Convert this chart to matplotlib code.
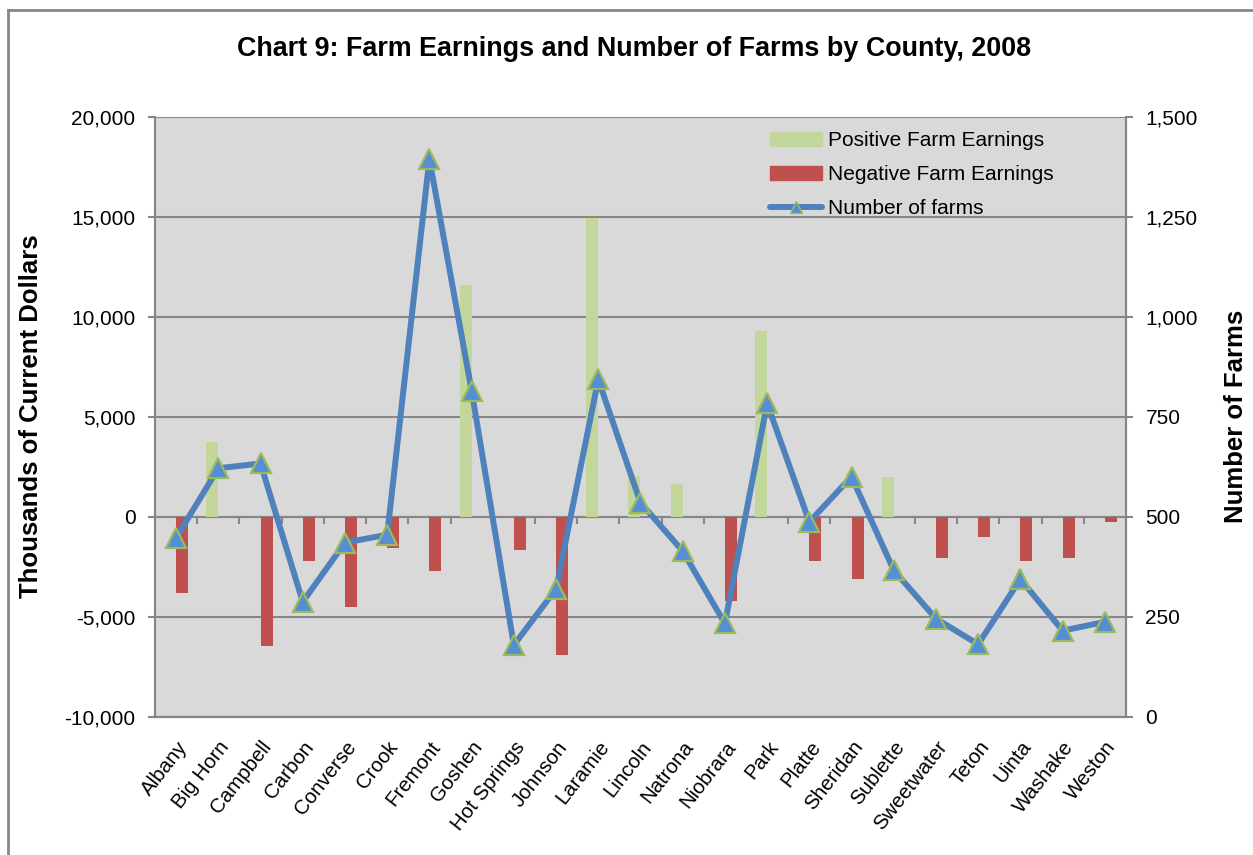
import matplotlib
matplotlib.use("Agg")
import matplotlib.pyplot as plt
import matplotlib.ticker as mticker
from matplotlib.lines import Line2D
import numpy as np

plt.rcParams['font.family'] = ['Liberation Sans', 'DejaVu Sans']

counties = ["Albany", "Big Horn", "Campbell", "Carbon", "Converse", "Crook",
            "Fremont", "Goshen", "Hot Springs", "Johnson", "Laramie", "Lincoln",
            "Natrona", "Niobrara", "Park", "Platte", "Sheridan", "Sublette",
            "Sweetwater", "Teton", "Uinta", "Washake", "Weston"]
positive = [0, 3720, 0, 0, 0, 0, 0, 11570, 0, 0, 14920, 2030, 1630, 0,
            9300, 0, 0, 1990, 0, 0, 0, 0, 0]
negative = [-3830, 0, -6450, -2230, -4500, -1570, -2730, 0, -1670, -6920, 0, 0,
            0, -4200, 0, -2220, -3120, 0, -2050, -1030, -2230, -2050, -280]
farms = [447, 621, 633, 287, 435, 455, 1394, 815, 179, 319, 843, 535, 414,
         233, 783, 487, 600, 366, 245, 181, 344, 215, 237]

x = np.arange(len(counties))
w = 0.285
grey = "#868686"

fig = plt.figure(figsize=(12.53, 8.55), dpi=100)
ax = fig.add_axes([0.1237, 0.1618, 0.7749, 0.7017])
ax2 = ax.twinx()

ax.set_facecolor("#D9D9D9")
ax.bar(x - w / 2, positive, w, color="#C3D69B", label="Positive Farm Earnings", zorder=2)
ax.bar(x + w / 2, negative, w, color="#C0504D", label="Negative Farm Earnings", zorder=2)

ax2.plot(x, farms, color="#4F81BD", lw=4.3, marker="^", markersize=15,
         markerfacecolor="#558ED5", markeredgecolor="#9BBB59", markeredgewidth=1.6,
         solid_capstyle="round", label="Number of farms")

ax.set_xlim(-0.5, len(counties) - 0.5)
ax.set_ylim(-10000, 20000)
ax2.set_ylim(0, 1500)
ax.set_yticks(np.arange(-10000, 20001, 5000))
ax2.set_yticks(np.arange(0, 1501, 250))
fmt = mticker.FuncFormatter(lambda v, p: f"{int(v):,}")
ax.yaxis.set_major_formatter(fmt)
ax2.yaxis.set_major_formatter(fmt)

ax.yaxis.grid(True, color=grey, lw=1.5, zorder=1)
ax.set_axisbelow(True)

for a in (ax, ax2):
    for s in a.spines.values():
        s.set_color(grey)
        s.set_linewidth(1.5)
    a.spines['top'].set_visible(False)
    a.tick_params(axis='y', colors=grey, length=5, width=1.5, labelcolor="black",
                  labelsize=15, pad=9)

ax.set_xticks(x)
ax.set_xticklabels(counties, rotation=52, ha="right", rotation_mode="anchor", fontsize=14.8)
ax.tick_params(axis='x', length=0, pad=15)

# horizontal axis line at zero with category tick marks
sec = ax.secondary_xaxis(1 / 3)
sec.set_xticks(np.arange(0.5, len(counties) - 0.5, 1))
sec.tick_params(axis='x', direction='out', length=5, width=1.5, colors=grey,
                labelbottom=False, labeltop=False)
sec.spines['bottom'].set_color(grey)
sec.spines['bottom'].set_linewidth(1.5)
sec.spines['top'].set_visible(False)

ax.set_ylabel("Thousands of Current Dollars", fontsize=18.5, fontweight="bold")
ax.yaxis.set_label_coords(-0.128, 0.5)
ax.yaxis.label.set_va("center")
ax2.set_ylabel("Number of Farms", fontsize=18.5, fontweight="bold")
ax2.yaxis.set_label_coords(1.1133, 0.5)
ax2.yaxis.label.set_va("center")

fig.text(0.506, 0.943, "Chart 9: Farm Earnings and Number of Farms by County, 2008",
         ha="center", va="center", fontsize=19.4, fontweight="bold")

handles = [plt.Rectangle((0, 0), 1, 1, color="#C3D69B"),
           plt.Rectangle((0, 0), 1, 1, color="#C0504D"),
           Line2D([], [], color="#4F81BD", lw=4.3, marker="^", markersize=9,
                  markerfacecolor="#558ED5", markeredgecolor="#9BBB59", solid_capstyle="round")]
ax2.legend(handles, ["Positive Farm Earnings", "Negative Farm Earnings", "Number of farms"],
           loc="upper left", bbox_to_anchor=(0.614, 1.0067), frameon=False, fontsize=15,
           handlelength=2.5, handleheight=0.7, handletextpad=0.3, labelspacing=0.72)

# chart area border
fig.add_artist(Line2D([0.0064, 0.0064], [0, 0.9883], color=grey, lw=2, transform=fig.transFigure))
fig.add_artist(Line2D([0.0064, 1], [0.9883, 0.9883], color=grey, lw=2, transform=fig.transFigure))

fig.savefig("out.png", dpi=100)
